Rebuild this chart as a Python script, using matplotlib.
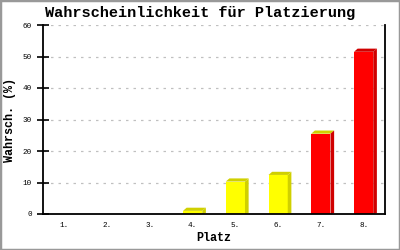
import matplotlib.pyplot as plt
from matplotlib.patches import Polygon, Rectangle

# Daten
plaetze = ["1.", "2.", "3.", "4.", "5.", "6.", "7.", "8."]
werte = [0, 0, 0, 1, 10.3, 12.4, 25.5, 51.5]
farbe_front = ["#ffff00", "#ffff00", "#ffff00", "#ffff00", "#ffff00", "#ffff00", "#ff0000", "#ff0000"]
farbe_top = ["#d0d000", "#d0d000", "#d0d000", "#d0d000", "#d0d000", "#d0d000", "#d0d000", "#d00000"]
farbe_side = ["#d0d000", "#d0d000", "#d0d000", "#d0d000", "#d0d000", "#d0d000", "#d00000", "#d00000"]
yticks = [0, 10, 20, 30, 40, 50, 60]

mono = ["Liberation Mono", "DejaVu Sans Mono"]

fig = plt.figure(figsize=(4, 2.5), dpi=100)
ax = fig.add_axes([0.1075, 0.144, 0.855, 0.756])

x = list(range(len(plaetze)))
breite = 0.45
ax.bar(x, werte, width=breite, color=farbe_front, zorder=3)

# 3D-Effekt: Seite und Deckel (Versatz ca. 3-4 px)
dx = 0.085
dy = 1.0
for i, v in enumerate(werte):
    if v <= 0:
        continue
    x0 = i - breite / 2
    x1 = i + breite / 2
    top = Polygon([(x0, v), (x1, v), (x1 + dx, v + dy), (x0 + dx, v + dy)],
                  closed=True, facecolor=farbe_top[i], edgecolor="none", zorder=3)
    side = Polygon([(x1, 0), (x1 + dx, dy * 0.3), (x1 + dx, v + dy), (x1, v)],
                   closed=True, facecolor=farbe_side[i], edgecolor="none", zorder=3)
    ax.add_patch(top)
    ax.add_patch(side)

ax.set_xlim(-0.5, len(plaetze) - 0.5)
ax.set_ylim(0, 60)
ax.set_xticks(x)
ax.set_xticklabels(plaetze, family=mono, fontsize=5.5)
ax.set_yticks(yticks)
ax.set_yticklabels([str(t) for t in yticks], family=mono, fontsize=5.5)
ax.tick_params(axis="x", length=0, pad=6)
ax.tick_params(axis="y", direction="inout", length=8, width=1.2, pad=4)

ax.grid(axis="y", color="#c0c0c0", linestyle=(0, (2, 4)), linewidth=0.9, zorder=0)
ax.spines["top"].set_visible(False)
for s in ["left", "bottom", "right"]:
    ax.spines[s].set_linewidth(1.3)
    ax.spines[s].set_zorder(4)

ax.set_xlabel("Platz", family=mono, fontsize=8.5, fontweight="bold", labelpad=2)
ax.set_ylabel("Wahrsch. (%)", family=mono, fontsize=8.5, fontweight="bold", labelpad=5)
fig.text(0.5, 0.948, "Wahrscheinlichkeit für Platzierung", family=mono,
         fontsize=11, fontweight="bold", ha="center", va="center")

# grauer Rahmen
fig.patches.append(Rectangle((0, 0), 1, 1, transform=fig.transFigure, fill=False,
                             edgecolor="#999999", linewidth=2.5))

fig.savefig("out.png", dpi=100)
